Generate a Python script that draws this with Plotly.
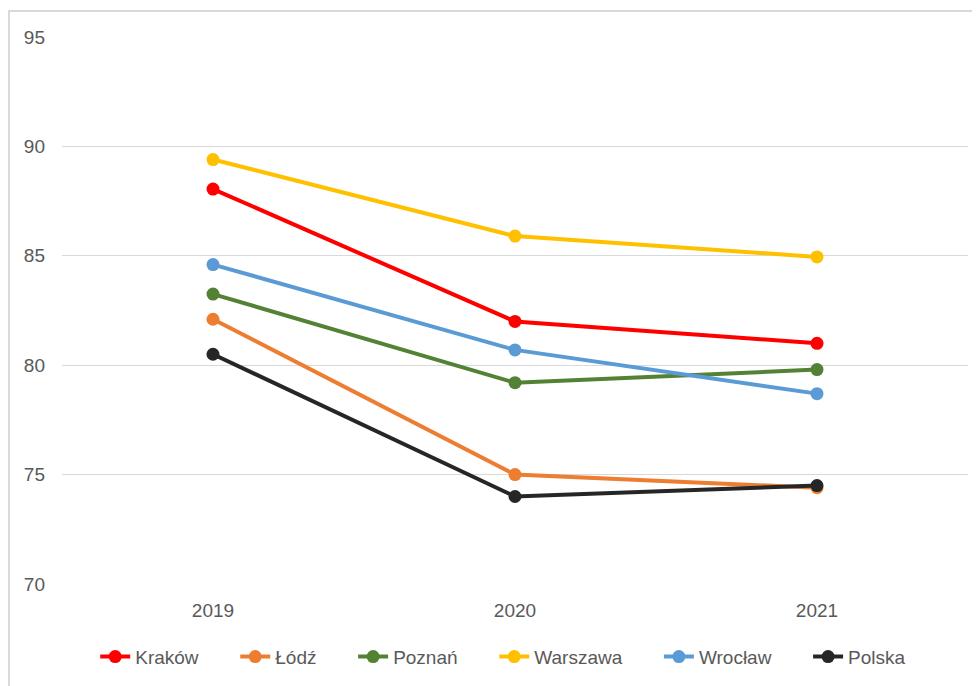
import plotly.graph_objects as go

years = ["2019", "2020", "2021"]
krakow = [88.05, 82.0, 81.0]
lodz = [82.1, 75.0, 74.4]
poznan = [83.25, 79.2, 79.8]
warszawa = [89.4, 85.9, 84.95]
wroclaw = [84.6, 80.7, 78.7]
polska = [80.5, 74.0, 74.5]

series = [
    ("Kraków", krakow, "#ff0000"),
    ("Łódź", lodz, "#ed7d31"),
    ("Poznań", poznan, "#548235"),
    ("Warszawa", warszawa, "#ffc000"),
    ("Wrocław", wroclaw, "#5b9bd5"),
    ("Polska", polska, "#262626"),
]

pad = "\u00a0" * 6
fig = go.Figure()
for i, (name, vals, col) in enumerate(series):
    label = name + (pad if i < len(series) - 1 else "")
    fig.add_trace(go.Scatter(
        x=years, y=vals, name=label, mode="lines+markers",
        line=dict(color=col, width=4),
        marker=dict(color=col, size=13),
    ))

font = "Liberation Sans"
L, R, T, B = 54, 20, 29, 110
pw, ph = 980 - L - R, 686 - T - B
fig.update_layout(
    width=980, height=686,
    margin=dict(l=L, r=R, t=T, b=B),
    paper_bgcolor="white", plot_bgcolor="white",
    font=dict(family=font, size=19, color="#595959"),
    showlegend=True,
    legend=dict(orientation="h", x=0.487, xanchor="center", y=-0.133, yanchor="middle",
                font=dict(size=19, color="#595959"), traceorder="normal"),
    xaxis=dict(type="category", range=[-0.5, 2.5], showgrid=False, zeroline=False,
               showline=False, ticks="", ticklabelstandoff=13, tickfont=dict(size=19)),
    yaxis=dict(range=[70, 95], dtick=5, showgrid=True, gridcolor="#d9d9d9", gridwidth=1,
               zeroline=False, showline=False, ticks="", ticklabelstandoff=16,
               tickfont=dict(size=19)),
    shapes=[dict(type="rect", xref="paper", yref="paper",
                 x0=(1 - L) / pw, x1=(1000 - L) / pw,
                 y0=-(720 - (686 - B)) / ph, y1=1 + (T - 3) / ph,
                 line=dict(color="#d9d9d9", width=2), fillcolor="rgba(0,0,0,0)", layer="below")],
)

fig.write_html("out.html")
